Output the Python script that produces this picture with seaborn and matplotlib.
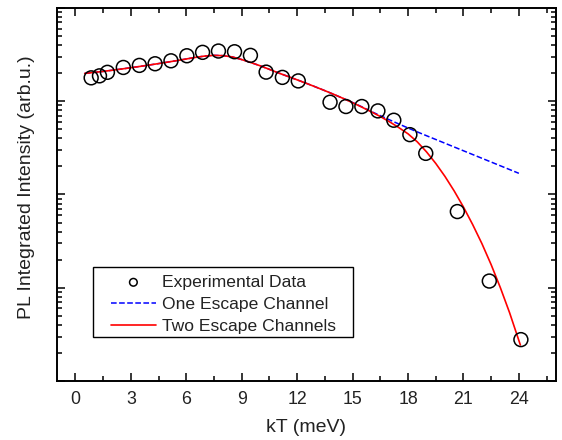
import numpy as np
import pandas as pd
import matplotlib
matplotlib.use('Agg')
import matplotlib.pyplot as plt
import seaborn as sns
from matplotlib.patches import Rectangle
from matplotlib.ticker import MultipleLocator, LogLocator, NullFormatter

# ---- data ----
exp_kT = [0.85, 1.30, 1.73, 2.59, 3.46, 4.31, 5.17, 6.03, 6.88, 7.74, 8.61, 9.47,
          10.32, 11.20, 12.06, 13.78, 14.64, 15.50, 16.37, 17.23, 18.10, 18.96,
          20.67, 22.40, 24.11]
exp_int = [1.78, 1.87, 2.04, 2.30, 2.42, 2.52, 2.71, 3.07, 3.34, 3.45, 3.39, 3.10,
           2.05, 1.80, 1.65, 0.975, 0.877, 0.877, 0.787, 0.625, 0.438, 0.276,
           0.0656, 0.0118, 0.00278]

# fit with two escape channels (red solid)
two_kT = [0.5, 1.5, 2.5, 3.5, 4.5, 5.5, 6.0, 6.5, 7.0, 7.5, 8.0, 8.5, 9.0, 9.5,
          10.0, 10.5, 11.0, 11.5, 12.0, 12.5, 13.0, 13.5, 14.0, 14.5, 15.0, 15.5,
          16.0, 16.5, 17.0, 17.5, 18.0, 18.5, 19.0, 19.5, 20.0, 20.5, 21.0, 21.5,
          22.0, 22.5, 23.0, 23.5, 24.08]
two_int = [1.985, 2.086, 2.214, 2.361, 2.531, 2.726, 2.836, 2.951, 3.047, 3.100,
           3.077, 2.980, 2.794, 2.594, 2.397, 2.193, 2.005, 1.843, 1.694, 1.554,
           1.421, 1.297, 1.180, 1.069, 0.9636, 0.8640, 0.7712, 0.6846, 0.6017,
           0.5215, 0.4471, 0.3668, 0.2864, 0.2154, 0.1562, 0.1090, 0.0734,
           0.04757, 0.02972, 0.01768, 0.0100, 0.005385, 0.002438]

# fit with one escape channel (blue dashed)
one_kT = [0.5, 1.5, 2.5, 3.5, 4.5, 5.5, 6.0, 6.5, 7.0, 7.5, 8.0, 8.5, 9.0, 9.5,
          10.0, 10.5, 11.0, 11.5, 12.0, 12.5, 13.0, 13.5, 14.0, 14.5, 15.0, 15.5,
          16.0, 16.5, 17.0, 17.5, 18.0, 18.5, 19.0, 20.0, 21.0, 22.0, 23.0, 24.0]
one_int = [1.985, 2.086, 2.214, 2.361, 2.531, 2.726, 2.836, 2.951, 3.047, 3.100,
           3.077, 2.980, 2.794, 2.594, 2.397, 2.193, 2.005, 1.843, 1.694, 1.554,
           1.421, 1.297, 1.180, 1.069, 0.9683, 0.8705, 0.7770, 0.7000, 0.6310,
           0.5700, 0.5163, 0.4688, 0.4267, 0.3543, 0.2942, 0.2444, 0.2030, 0.1686]

x_ticks = [0, 3, 6, 9, 12, 15, 18, 21, 24]

# ---- style ----
sns.set_style('ticks')
plt.rcParams['font.family'] = ['Liberation Sans', 'DejaVu Sans']
txt = '#222222'

fig = plt.figure(figsize=(5.62, 4.40), dpi=100)
ax = fig.add_axes([0.1014, 0.134, 0.8876, 0.848])

sns.scatterplot(x=exp_kT, y=exp_int, ax=ax, marker='o', s=100,
                facecolor='none', edgecolor='black', linewidth=1.1,
                label='Experimental Data', zorder=3)
sns.lineplot(x=one_kT, y=one_int, ax=ax, color='#0000ff', linestyle='--',
             linewidth=1.1, dashes=(5, 3.5), label='One Escape Channel', zorder=2)
sns.lineplot(x=two_kT, y=two_int, ax=ax, color='#ff0000', linewidth=1.2,
             label='Two Escape Channels', zorder=2.5)

ax.set_yscale('log')
ax.set_ylim(1e-3, 10)
ax.set_xlim(-1, 26)
ax.set_xticks(x_ticks)
ax.xaxis.set_minor_locator(MultipleLocator(1.5))
ax.yaxis.set_major_locator(LogLocator(base=10))
ax.yaxis.set_minor_locator(LogLocator(base=10, subs=np.arange(2, 10)))
ax.yaxis.set_major_formatter(NullFormatter())
ax.yaxis.set_minor_formatter(NullFormatter())

ax.tick_params(which='both', direction='in', top=True, right=True, width=1.1,
               labelsize=12.8, colors='black', labelcolor=txt)
ax.tick_params(axis='x', which='major', pad=7)
ax.tick_params(which='major', length=6)
ax.tick_params(which='minor', length=3.5)
for sp in ax.spines.values():
    sp.set_visible(True)
    sp.set_linewidth(1.4)
    sp.set_color('black')

ax.set_xlabel('kT (meV)', fontsize=14, color=txt, labelpad=8)
ax.set_ylabel('PL Integrated Intensity (arb.u.)', fontsize=14, color=txt,
              labelpad=12, y=0.52)

# legend: frame drawn separately so the side padding can be wider than top/bottom
leg = ax.legend(loc='center', bbox_to_anchor=(0.3337, 0.2051), borderaxespad=0,
                fontsize=12.6, frameon=False, handlelength=2.6, handletextpad=0.35,
                markerscale=0.55, labelspacing=0.4, borderpad=0)
for t in leg.get_texts():
    t.set_color(txt)
ax.add_patch(Rectangle((0.0727, 0.119), 0.5211, 0.186, transform=ax.transAxes,
                       fill=False, edgecolor='black', linewidth=1.0, zorder=5))

plt.savefig('out.png', dpi=100)
